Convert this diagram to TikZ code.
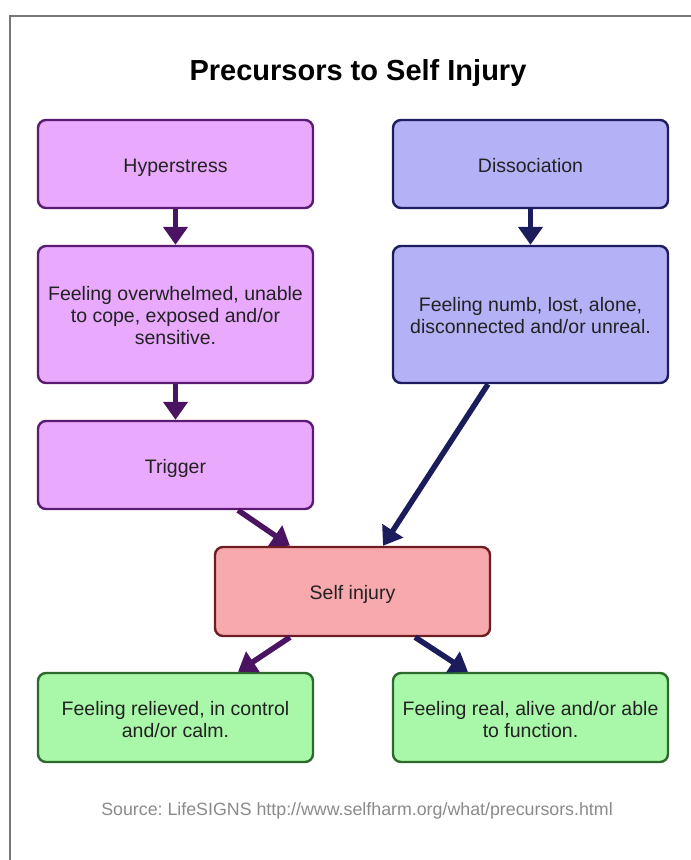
\documentclass[tikz,border=0pt]{standalone}
\usepackage{fontspec}
\setmainfont{Liberation Sans}
\usetikzlibrary{arrows.meta,calc}
\frenchspacing
\definecolor{pfill}{HTML}{E9A9FD}
\definecolor{pdraw}{HTML}{5B1B72}
\definecolor{bfill}{HTML}{B5B1F7}
\definecolor{bdraw}{HTML}{1C1C5E}
\definecolor{rfill}{HTML}{F8A9AE}
\definecolor{rdraw}{HTML}{6E1E22}
\definecolor{gfill}{HTML}{A9F7A9}
\definecolor{gdraw}{HTML}{2A6A2A}
\definecolor{parrow}{HTML}{4B1463}
\definecolor{barrow}{HTML}{1A1C5C}
\definecolor{txt}{HTML}{222222}
\definecolor{srcgray}{HTML}{8A8A8A}
\definecolor{framegray}{HTML}{777777}
\newcommand{\boxtext}[2][6pt]{\raisebox{0pt}[\dimexpr\height+#1\relax][\depth]{\begin{tabular}{@{}c@{}}#2\end{tabular}}}
\tikzset{
  box/.style={rounded corners=8pt, line width=2.4pt, minimum width=275pt, inner sep=0pt, text=txt, font=\fontsize{19.5}{22}\selectfont},
  pbox/.style={box, fill=pfill, draw=pdraw},
  bbox/.style={box, fill=bfill, draw=bdraw},
  rbox/.style={box, fill=rfill, draw=rdraw},
  gbox/.style={box, fill=gfill, draw=gdraw},
  arr/.style={line width=5.5pt, -{Triangle[width=24pt,length=18pt]}},
  parr/.style={arr, draw=parrow, fill=parrow},
  barr/.style={arr, draw=barrow, fill=barrow},
}
\begin{document}
\begin{tikzpicture}[x=1pt,y=-1pt]
\useasboundingbox (0,0) rectangle (691,860);
\draw[framegray, line width=2pt] (10,860) -- (10,16) -- (691,16);
\node[font=\bfseries\fontsize{29}{33}\selectfont, text=black] (title) at (358,73) {Precursors to Self Injury};
\node[pbox, minimum height=88pt] (hyp) at (175.5,164) {\boxtext[8pt]{Hyperstress}};
\node[bbox, minimum height=88pt] (dis) at (530.5,164) {\boxtext[8pt]{Dissociation}};
\node[pbox, minimum height=137pt] (over) at (175.5,314.5) {\boxtext[8pt]{Feeling overwhelmed, unable\\to cope, exposed and/or\\sensitive.}};
\node[bbox, minimum height=137pt] (numb) at (530.5,314.5) {\boxtext[7pt]{Feeling numb, lost, alone,\\disconnected and/or unreal.}};
\node[pbox, minimum height=88pt] (trig) at (175.5,465) {\boxtext[8pt]{Trigger}};
\node[rbox, minimum height=89pt] (self) at (352.5,591.5) {\boxtext[8pt]{Self injury}};
\node[gbox, minimum height=89pt] (rel) at (175.5,717.5) {\boxtext[10pt]{Feeling relieved, in control\\and/or calm.}};
\node[gbox, minimum height=89pt] (real) at (530.5,717.5) {\boxtext[10pt]{Feeling real, alive and/or able\\to function.}};
\node[text=srcgray, font=\fontsize{17.8}{20}\selectfont] (src) at (357,811) {Source: LifeSIGNS http://www.selfharm.org/what/precursors.html};
\draw[parr] (hyp.south) -- (over.north);
\draw[barr] (dis.south) -- (numb.north);
\draw[parr] (over.south) -- (trig.north);
\draw[parr] ([xshift=62.5pt]trig.south) -- ([xshift=-62.5pt]self.north);
\draw[barr] ([xshift=-42.5pt]numb.south) -- ([xshift=30.5pt]self.north);
\draw[parr] ([xshift=-62.5pt]self.south) -- ([xshift=62.5pt]rel.north);
\draw[barr] ([xshift=62.5pt]self.south) -- ([xshift=-62.5pt]real.north);
\end{tikzpicture}
\end{document}
